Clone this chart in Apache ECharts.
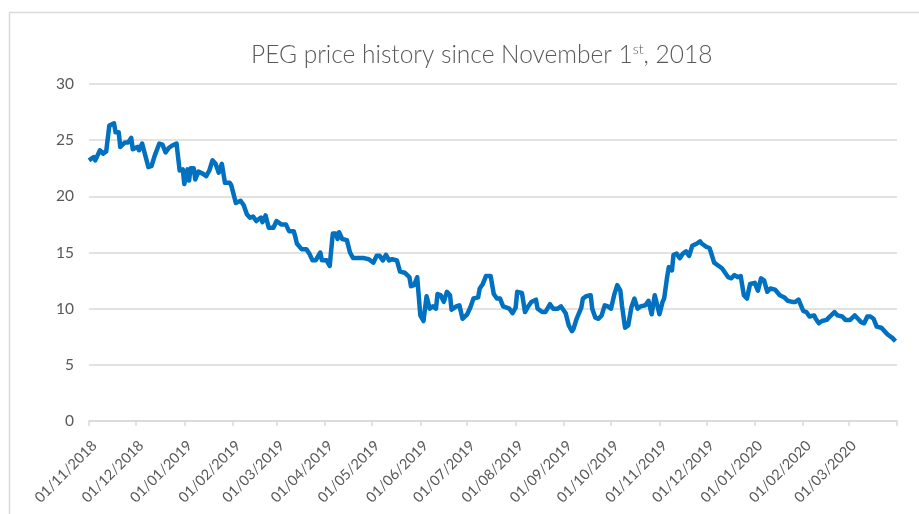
<!DOCTYPE html>
<html>
<head>
	<meta charset="utf-8">
	<title>PEG price history</title>
	<script src="https://cdn.jsdelivr.net/npm/echarts@6/dist/echarts.min.js"></script>
	<style>
		html, body { margin: 0; padding: 0; background: #fff; }
		#chart { width: 919px; height: 514px; }
	</style>
</head>
<body>
	<div id="chart"></div>
	<script>
		// price points (date, close)
		var priceDates = [
			'2018-11-01','2018-11-04','2018-11-05','2018-11-08','2018-11-10','2018-11-12','2018-11-14','2018-11-17','2018-11-18','2018-11-20',
			'2018-11-21','2018-11-24','2018-11-26','2018-11-28','2018-11-29','2018-12-02','2018-12-03','2018-12-05','2018-12-09','2018-12-11',
			'2018-12-13','2018-12-16','2018-12-18','2018-12-20','2018-12-22','2018-12-24','2018-12-27','2018-12-29','2018-12-31','2019-01-01',
			'2019-01-03','2019-01-04','2019-01-05','2019-01-07','2019-01-08','2019-01-10','2019-01-13','2019-01-15','2019-01-17','2019-01-19',
			'2019-01-21','2019-01-22','2019-01-23','2019-01-25','2019-01-27','2019-01-30','2019-01-31','2019-02-03','2019-02-06','2019-02-08',
			'2019-02-10','2019-02-12','2019-02-14','2019-02-16','2019-02-19','2019-02-20','2019-02-22','2019-02-24','2019-02-27','2019-03-01',
			'2019-03-04','2019-03-07','2019-03-09','2019-03-12','2019-03-13','2019-03-14','2019-03-17','2019-03-20','2019-03-22','2019-03-24',
			'2019-03-26','2019-03-29','2019-03-30','2019-04-02','2019-04-04','2019-04-06','2019-04-08','2019-04-09','2019-04-10','2019-04-12',
			'2019-04-15','2019-04-17','2019-04-19','2019-04-23','2019-04-26','2019-04-29','2019-05-02','2019-05-04','2019-05-06','2019-05-08',
			'2019-05-10','2019-05-12','2019-05-14','2019-05-17','2019-05-19','2019-05-22','2019-05-25','2019-05-26','2019-05-28','2019-05-30',
			'2019-06-01','2019-06-03','2019-06-05','2019-06-07','2019-06-09','2019-06-11','2019-06-12','2019-06-14','2019-06-16','2019-06-18',
			'2019-06-20','2019-06-21','2019-06-24','2019-06-26','2019-06-28','2019-07-01','2019-07-03','2019-07-05','2019-07-08','2019-07-09',
			'2019-07-11','2019-07-13','2019-07-16','2019-07-18','2019-07-20','2019-07-22','2019-07-24','2019-07-28','2019-07-30','2019-08-01',
			'2019-08-02','2019-08-05','2019-08-07','2019-08-09','2019-08-11','2019-08-14','2019-08-15','2019-08-18','2019-08-20','2019-08-23',
			'2019-08-25','2019-08-28','2019-08-30','2019-09-02','2019-09-04','2019-09-06','2019-09-07','2019-09-09','2019-09-10','2019-09-12',
			'2019-09-13','2019-09-15','2019-09-18','2019-09-19','2019-09-21','2019-09-23','2019-09-25','2019-09-27','2019-09-29','2019-10-01',
			'2019-10-03','2019-10-05','2019-10-07','2019-10-08','2019-10-10','2019-10-12','2019-10-14','2019-10-16','2019-10-18','2019-10-20',
			'2019-10-23','2019-10-25','2019-10-27','2019-10-29','2019-10-30','2019-11-01','2019-11-03','2019-11-04','2019-11-06','2019-11-07',
			'2019-11-09','2019-11-10','2019-11-12','2019-11-14','2019-11-16','2019-11-18','2019-11-20','2019-11-22','2019-11-25','2019-11-27',
			'2019-11-28','2019-12-01','2019-12-03','2019-12-04','2019-12-06','2019-12-09','2019-12-11','2019-12-13','2019-12-15','2019-12-17',
			'2019-12-19','2019-12-21','2019-12-23','2019-12-25','2019-12-27','2019-12-29','2020-01-01','2020-01-03','2020-01-05','2020-01-07',
			'2020-01-09','2020-01-11','2020-01-14','2020-01-17','2020-01-20','2020-01-22','2020-01-25','2020-01-27','2020-01-29','2020-02-01',
			'2020-02-03','2020-02-05','2020-02-08','2020-02-09','2020-02-11','2020-02-13','2020-02-16','2020-02-18','2020-02-21','2020-02-23',
			'2020-02-26','2020-02-28','2020-02-29','2020-03-02','2020-03-05','2020-03-07','2020-03-09','2020-03-11','2020-03-13','2020-03-15',
			'2020-03-17','2020-03-19','2020-03-22','2020-03-24','2020-03-26','2020-03-29','2020-03-30','2020-03-31'
		]
		var prices = [
			23.2, 23.5, 23.2, 24.1, 23.8, 24.0, 26.3, 26.5, 25.7, 25.7,
			24.4, 24.8, 24.8, 25.2, 24.2, 24.4, 24.1, 24.7, 22.6, 22.7,
			23.6, 24.7, 24.6, 23.9, 24.3, 24.5, 24.7, 22.3, 22.4, 21.1,
			22.4, 21.4, 22.5, 22.5, 21.5, 22.2, 22.0, 21.8, 22.3, 23.2,
			22.9, 23.0, 22.1, 22.9, 21.2, 21.2, 21.0, 19.4, 19.6, 19.2,
			18.4, 18.1, 18.2, 17.8, 18.1, 17.7, 18.3, 17.2, 17.2, 17.8,
			17.5, 17.5, 16.9, 16.9, 16.4, 15.8, 15.3, 15.3, 14.9, 14.3,
			14.3, 15.0, 14.3, 14.3, 13.8, 16.7, 16.7, 16.2, 16.8, 16.2,
			16.1, 15.0, 14.5, 14.5, 14.5, 14.4, 14.1, 14.7, 14.7, 14.3,
			14.8, 14.3, 14.4, 14.3, 13.3, 13.2, 12.8, 12.0, 12.1, 12.8,
			9.4, 8.9, 11.1, 10.0, 10.2, 10.0, 11.3, 11.2, 10.6, 11.5,
			11.2, 9.9, 10.2, 10.3, 9.1, 9.5, 10.1, 10.9, 11.0, 11.8,
			12.2, 12.9, 12.9, 11.3, 10.9, 10.9, 10.2, 10.0, 9.6, 10.1,
			11.5, 11.4, 9.7, 10.2, 10.6, 10.8, 10.0, 9.7, 9.7, 10.4,
			10.0, 10.0, 10.2, 9.6, 8.5, 8.0, 8.2, 9.1, 9.1, 10.1,
			10.9, 11.1, 11.2, 10.0, 9.2, 9.1, 9.4, 10.3, 10.2, 10.0,
			11.2, 12.1, 11.6, 10.3, 8.3, 8.5, 10.1, 10.9, 10.0, 10.2,
			10.3, 10.7, 9.5, 11.2, 11.3, 9.5, 10.6, 10.9, 12.9, 13.7,
			13.4, 14.8, 14.9, 14.5, 14.9, 15.1, 14.7, 15.6, 15.8, 16.0,
			15.8, 15.5, 15.4, 15.0, 14.1, 13.8, 13.6, 13.2, 12.8, 12.7,
			13.0, 12.8, 12.9, 11.2, 10.9, 12.2, 12.3, 11.6, 12.7, 12.5,
			11.5, 11.8, 11.7, 11.2, 11.0, 10.7, 10.6, 10.6, 10.8, 9.8,
			9.7, 9.3, 9.4, 9.1, 8.7, 8.9, 9.0, 9.3, 9.7, 9.4,
			9.3, 9.0, 9.1, 9.0, 9.4, 9.1, 8.8, 8.7, 9.3, 9.3,
			9.1, 8.4, 8.3, 8.0, 7.7, 7.4, 7.3, 7.1
		]

		var axisStart = '2018-11-01'
		var axisEnd = '2020-04-01'
		var yTicks = [0, 5, 10, 15, 20, 25, 30]

		// one category per calendar day, like the excel date axis
		function pad(n) { return n < 10 ? '0' + n : '' + n }
		var days = []
		var d = new Date(axisStart + 'T00:00:00Z')
		var end = new Date(axisEnd + 'T00:00:00Z')
		while (d <= end) {
			days.push(d.getUTCFullYear() + '-' + pad(d.getUTCMonth() + 1) + '-' + pad(d.getUTCDate()))
			d.setUTCDate(d.getUTCDate() + 1)
		}
		var lookup = {}
		priceDates.forEach(function (k, i) { lookup[k] = prices[i] })
		var series = days.map(function (k) { return lookup[k] === undefined ? null : lookup[k] })
		var labels = days.map(function (k) { return k.slice(8, 10) + '/' + k.slice(5, 7) + '/' + k.slice(0, 4) })

		var grey = '#595959'
		var light = '#d9d9d9'
		var font = 'Lato'

		var chart = echarts.init(document.getElementById('chart'))
		chart.setOption({
			animation: false,
			textStyle: { fontFamily: font },
			title: {
				text: '{m|PEG price history since November 1}{s|st}{m|, 2018}',
				left: 246,
				top: 37,
				textStyle: {
					rich: {
						m: { fontFamily: font, fontSize: 24.5, color: grey, fontWeight: 300 },
						s: { fontFamily: font, fontSize: 14, color: grey, fontWeight: 300, padding: [0, 0, 12, 0] }
					}
				}
			},
			graphic: [{
				type: 'rect',
				shape: { x: 9.5, y: 12.5, width: 940, height: 540 },
				style: { fill: 'none', stroke: light, lineWidth: 1.5 },
				silent: true
			}],
			grid: { left: 89, right: 22, top: 84, bottom: 93 },
			xAxis: {
				type: 'category',
				data: labels,
				boundaryGap: false,
				axisLine: { lineStyle: { color: light, width: 1.5 } },
				axisTick: {
					length: 5,
					lineStyle: { color: light, width: 1.5 },
					interval: function (i, v) { return v.slice(0, 2) === '01' }
				},
				axisLabel: {
					rotate: 45,
					margin: 17,
					align: 'right',
					verticalAlign: 'top',
					color: grey,
					fontSize: 14.5,
					fontFamily: font,
					interval: function (i, v) { return v.slice(0, 2) === '01' && i < labels.length - 1 }
				}
			},
			yAxis: {
				type: 'value',
				min: yTicks[0],
				max: yTicks[yTicks.length - 1],
				interval: 5,
				axisLine: { show: false },
				axisTick: { show: false },
				axisLabel: { color: grey, fontSize: 15.5, fontFamily: font, margin: 15 },
				splitLine: { lineStyle: { color: light, width: 1.5 } }
			},
			series: [{
				type: 'line',
				data: series,
				connectNulls: true,
				showSymbol: false,
				symbol: 'none',
				lineStyle: { color: '#0070c0', width: 4.5, join: 'round' }
			}]
		})
	</script>
</body>
</html>
